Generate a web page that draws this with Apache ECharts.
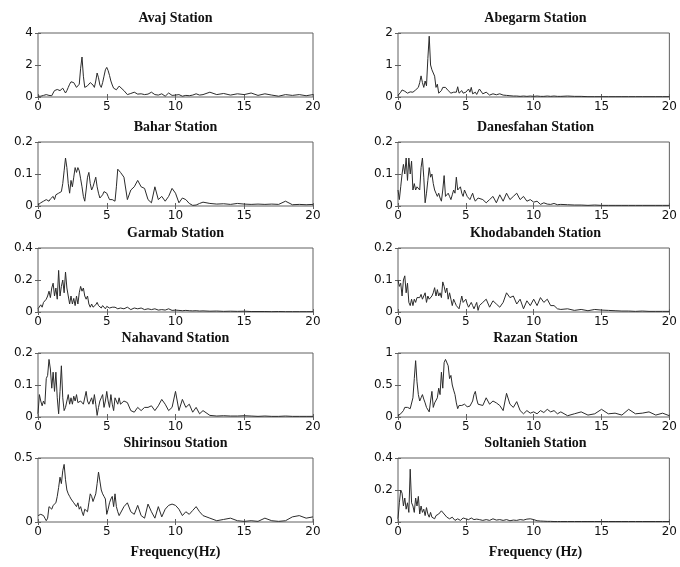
<!DOCTYPE html>
<html>
<head>
<meta charset="utf-8">
<script src="https://cdn.jsdelivr.net/npm/echarts@6/dist/echarts.min.js"></script>
<style>
  html, body { margin: 0; padding: 0; background: #fff; }
  #chart { width: 680px; height: 567px; }
</style>
</head>
<body>
<div id="chart"></div>
<script>
// frequency grid (Hz) shared by every station
const freq = [
  0, 0.1, 0.2, 0.3, 0.4, 0.5, 0.6, 0.7, 0.8, 0.9,
  1, 1.1, 1.2, 1.3, 1.4, 1.5, 1.6, 1.7, 1.8, 1.9,
  2, 2.1, 2.2, 2.3, 2.4, 2.5, 2.6, 2.7, 2.8, 2.9,
  3, 3.1, 3.2, 3.3, 3.4, 3.5, 3.6, 3.7, 3.8, 3.9,
  4, 4.1, 4.2, 4.3, 4.4, 4.5, 4.6, 4.7, 4.8, 4.9,
  5, 5.1, 5.2, 5.3, 5.4, 5.5, 5.6, 5.7, 5.8, 5.9,
  6, 6.25, 6.5, 6.75, 7, 7.25, 7.5, 7.75, 8, 8.25, 8.5, 8.75, 9, 9.25, 9.5, 9.75,
  10, 10.25, 10.5, 10.75, 11, 11.25, 11.5, 11.75, 12,
  12.5, 13, 13.5, 14, 14.5, 15, 15.5, 16, 16.5, 17, 17.5, 18, 18.5, 19, 19.5, 20
];

// Fourier amplitude per station
const avaj = [
  0.05, 0.06, 0.05, 0.08, 0.1, 0.12, 0.15, 0.16, 0.1, 0.05,
  0.08, 0.25, 0.4, 0.45, 0.47, 0.42, 0.4, 0.5, 0.55, 0.4,
  0.25, 0.4, 0.6, 0.8, 0.95, 1.05, 0.9, 0.75, 0.6, 0.5,
  0.8, 1.8, 2.5, 1.3, 0.6, 0.65, 0.7, 0.8, 0.9, 0.95,
  0.75, 0.6, 1.0, 1.5, 1.2, 0.75, 0.6, 0.9, 1.3, 1.7,
  1.85, 1.65, 1.35, 1.0, 0.75, 0.55, 0.5, 0.45, 0.55, 0.68,
  0.7, 0.4, 0.15, 0.22, 0.3, 0.18, 0.2, 0.15, 0.18, 0.3, 0.15, 0.12, 0.2, 0.05, 0.25, 0.1,
  0.12, 0.15, 0.05, 0.1, 0.08, 0.12, 0.2, 0.12, 0.15,
  0.3, 0.15, 0.22, 0.12, 0.2, 0.15, 0.25, 0.1, 0.2, 0.12, 0.05, 0.15, 0.1, 0.15, 0.08, 0.15
];
const abegarm = [
  0.05, 0.1, 0.15, 0.22, 0.26, 0.18, 0.14, 0.12, 0.13, 0.16,
  0.18, 0.15, 0.2, 0.22, 0.25, 0.3, 0.45, 0.66, 0.45, 0.3,
  0.5, 0.35, 1.2, 1.9, 1.0, 0.85, 0.9, 0.65, 0.3, 0.4,
  0.12, 0.15, 0.2, 0.3, 0.35, 0.3, 0.25, 0.2, 0.18, 0.12,
  0.1, 0.15, 0.2, 0.15, 0.32, 0.12, 0.18, 0.2, 0.12, 0.1,
  0.15, 0.2, 0.25, 0.15, 0.3, 0.1, 0.12, 0.15, 0.08, 0.06,
  0.25, 0.1, 0.15, 0.06, 0.1, 0.07, 0.1, 0.06, 0.05, 0.04, 0.03, 0.03, 0.02, 0.03, 0.02, 0.03,
  0.02, 0.03, 0.02, 0.02, 0.03, 0.02, 0.03, 0.02, 0.02,
  0.03, 0.02, 0.02, 0.01, 0.01, 0.01, 0.01, 0.01, 0.01, 0.01, 0.01, 0.01, 0.01, 0.01, 0.01, 0.01
];
const bahar = [
  0.003, 0.005, 0.01, 0.01, 0.015, 0.012, 0.02, 0.018, 0.015, 0.022,
  0.025, 0.03, 0.02, 0.035, 0.03, 0.04, 0.042, 0.045, 0.07, 0.11,
  0.15, 0.12, 0.07, 0.04, 0.08, 0.06, 0.09, 0.12, 0.105, 0.12,
  0.11, 0.085, 0.06, 0.03, 0.015, 0.05, 0.09, 0.105, 0.07, 0.05,
  0.06, 0.075, 0.09, 0.06, 0.04, 0.025, 0.02, 0.035, 0.045, 0.05,
  0.04, 0.03, 0.02, 0.015, 0.02, 0.018, 0.015, 0.06, 0.115, 0.11,
  0.105, 0.09, 0.02, 0.05, 0.06, 0.08, 0.06, 0.055, 0.02, 0.01, 0.06, 0.02, 0.03, 0.015, 0.03, 0.055,
  0.04, 0.01, 0.025, 0.02, 0.008, 0.002, 0.003, 0.008, 0.012,
  0.008, 0.006, 0.007, 0.005, 0.008, 0.006, 0.005, 0.006, 0.005, 0.006, 0.005, 0.015, 0.004, 0.005, 0.004, 0.005
];
const danesfahan = [
  0.05, 0.02, 0.06, 0.1, 0.13, 0.1, 0.15, 0.08, 0.15, 0.1,
  0.14, 0.05, 0.07, 0.05, 0.06, 0.065, 0.05, 0.12, 0.15, 0.09,
  0.01, 0.04, 0.08, 0.12, 0.09, 0.1, 0.07, 0.05, 0.04, 0.03,
  0.04, 0.025, 0.015, 0.05, 0.095, 0.03, 0.035, 0.04, 0.03, 0.02,
  0.035, 0.05, 0.04, 0.09, 0.05, 0.055, 0.06, 0.04, 0.03, 0.05,
  0.04, 0.03, 0.025, 0.02, 0.03, 0.04, 0.025, 0.015, 0.02, 0.025,
  0.02, 0.02, 0.01, 0.02, 0.03, 0.01, 0.035, 0.015, 0.04, 0.02, 0.03, 0.04, 0.02, 0.03, 0.015, 0.02,
  0.012, 0.015, 0.005, 0.01, 0.006, 0.005, 0.008, 0.004, 0.005,
  0.004, 0.003, 0.003, 0.002, 0.003, 0.002, 0.002, 0.002, 0.002, 0.002, 0.002, 0.002, 0.002, 0.002, 0.002, 0.002
];
const garmab = [
  0.02, 0.03, 0.045, 0.03, 0.06, 0.05, 0.08, 0.1, 0.13, 0.09,
  0.15, 0.18, 0.1, 0.15, 0.08, 0.26, 0.1, 0.16, 0.2, 0.12,
  0.25, 0.15, 0.1, 0.05, 0.1, 0.05, 0.085, 0.04, 0.1, 0.05,
  0.12, 0.16, 0.13, 0.15, 0.1, 0.08, 0.1, 0.05, 0.03, 0.05,
  0.03, 0.035, 0.045, 0.06, 0.04, 0.03, 0.025, 0.04, 0.03, 0.02,
  0.035, 0.03, 0.025, 0.035, 0.03, 0.02, 0.03, 0.025, 0.02, 0.03,
  0.025, 0.02, 0.03, 0.015, 0.025, 0.02, 0.025, 0.015, 0.02, 0.015, 0.02, 0.012, 0.015, 0.012, 0.02, 0.01,
  0.012, 0.01, 0.008, 0.01, 0.008, 0.007, 0.008, 0.006, 0.007,
  0.005, 0.006, 0.004, 0.005, 0.004, 0.005, 0.003, 0.003, 0.003, 0.002, 0.003, 0.002, 0.002, 0.002, 0.002, 0.002
];
const khodabandeh = [
  0.1, 0.08, 0.09, 0.05, 0.1, 0.113, 0.06, 0.09, 0.03, 0.02,
  0.04, 0.02, 0.04, 0.03, 0.045, 0.05, 0.045, 0.055, 0.04, 0.05,
  0.06, 0.03, 0.05, 0.04, 0.035, 0.05, 0.06, 0.076, 0.05, 0.07,
  0.05, 0.06, 0.045, 0.094, 0.08, 0.06, 0.075, 0.04, 0.06, 0.04,
  0.02, 0.04, 0.03, 0.02, 0.015, 0.01, 0.03, 0.05, 0.03, 0.035,
  0.04, 0.025, 0.015, 0.02, 0.03, 0.02, 0.01, 0.02, 0.03, 0.005,
  0.02, 0.03, 0.04, 0.015, 0.035, 0.025, 0.015, 0.03, 0.06, 0.045, 0.05, 0.025, 0.04, 0.01, 0.035, 0.02,
  0.04, 0.02, 0.045, 0.03, 0.04, 0.02, 0.02, 0.01, 0.008,
  0.01, 0.005, 0.008, 0.004, 0.008, 0.006, 0.005, 0.004, 0.003, 0.003, 0.002, 0.003, 0.002, 0.002, 0.002, 0.002
];
const nahavand = [
  0.01, 0.07, 0.05, 0.035, 0.05, 0.04, 0.12, 0.13, 0.18, 0.15,
  0.09, 0.14, 0.08, 0.14, 0.06, 0.01, 0.08, 0.16, 0.06, 0.02,
  0.03, 0.025, 0.07, 0.04, 0.06, 0.04, 0.065, 0.05, 0.07, 0.045,
  0.04, 0.05, 0.045, 0.04, 0.045, 0.08, 0.05, 0.04, 0.05, 0.06,
  0.04, 0.07, 0.04, 0.005, 0.03, 0.05, 0.06, 0.07, 0.03, 0.05,
  0.08, 0.05, 0.03, 0.07, 0.04, 0.02, 0.06, 0.05, 0.04, 0.06,
  0.04, 0.05, 0.045, 0.02, 0.015, 0.03, 0.02, 0.03, 0.03, 0.035, 0.02, 0.035, 0.055, 0.04, 0.02, 0.03,
  0.08, 0.02, 0.055, 0.03, 0.04, 0.015, 0.03, 0.01, 0.02,
  0.005, 0.003, 0.004, 0.003, 0.003, 0.004, 0.003, 0.002, 0.003, 0.002, 0.002, 0.003, 0.002, 0.002, 0.002, 0.002
];
const razan = [
  0.02, 0.03, 0.05, 0.07, 0.1, 0.15, 0.18, 0.15, 0.12, 0.13,
  0.15, 0.3, 0.6, 0.88, 0.55, 0.35, 0.25, 0.3, 0.35, 0.28,
  0.22, 0.15, 0.12, 0.08, 0.25, 0.4, 0.15, 0.22, 0.25, 0.3,
  0.45, 0.35, 0.7, 0.45, 0.85, 0.9, 0.92, 0.8, 0.6, 0.65,
  0.5, 0.42, 0.35, 0.22, 0.13, 0.18, 0.2, 0.18, 0.19, 0.2,
  0.2, 0.16, 0.15, 0.17, 0.18, 0.25, 0.35, 0.4, 0.28, 0.2,
  0.17, 0.18, 0.3, 0.2, 0.25, 0.22, 0.18, 0.1, 0.37, 0.2, 0.15, 0.24, 0.1, 0.05, 0.1, 0.06,
  0.08, 0.05, 0.1, 0.07, 0.12, 0.08, 0.1, 0.05, 0.08,
  0.02, 0.05, 0.08, 0.03, 0.05, 0.12, 0.05, 0.06, 0.03, 0.12, 0.05, 0.06, 0.08, 0.03, 0.06, 0.02
];
const shirinsou = [
  0.05, 0.055, 0.06, 0.055, 0.05, 0.03, 0.01, 0.03, 0.12, 0.11,
  0.1, 0.13, 0.14, 0.15, 0.2, 0.27, 0.35, 0.3, 0.4, 0.45,
  0.33, 0.25, 0.22, 0.2, 0.18, 0.17, 0.15, 0.14, 0.12, 0.15,
  0.1, 0.12, 0.08, 0.05, 0.1, 0.09, 0.08, 0.15, 0.22, 0.2,
  0.16, 0.15, 0.22, 0.3, 0.39, 0.32, 0.25, 0.22, 0.2, 0.18,
  0.06, 0.1, 0.15, 0.18, 0.2, 0.12, 0.22, 0.12, 0.08, 0.05,
  0.07, 0.12, 0.15, 0.08, 0.06, 0.13, 0.05, 0.03, 0.14, 0.08, 0.03, 0.12, 0.04, 0.1, 0.13, 0.14,
  0.13, 0.1, 0.05, 0.08, 0.06, 0.09, 0.12, 0.08, 0.05,
  0.03, 0.01, 0.02, 0.03, 0.01, 0.005, 0.01, 0.005, 0.03, 0.01, 0.005, 0.01, 0.04, 0.05, 0.03, 0.04
];
const soltanieh = [
  0.02, 0.12, 0.2, 0.18, 0.1, 0.15, 0.08, 0.12, 0.06, 0.33,
  0.12, 0.1, 0.06, 0.15, 0.1, 0.16, 0.05, 0.1, 0.06, 0.08,
  0.04, 0.09, 0.05, 0.03, 0.06, 0.03, 0.04, 0.02, 0.04, 0.03,
  0.05, 0.06, 0.07, 0.08, 0.05, 0.06, 0.03, 0.04, 0.02, 0.025,
  0.03, 0.02, 0.01, 0.015, 0.02, 0.012, 0.01, 0.018, 0.025, 0.02,
  0.02, 0.012, 0.015, 0.02, 0.025, 0.02, 0.015, 0.012, 0.018, 0.01,
  0.015, 0.01, 0.015, 0.01, 0.02, 0.012, 0.015, 0.01, 0.015, 0.008, 0.012, 0.01, 0.015, 0.012, 0.018, 0.02,
  0.015, 0.008, 0.006, 0.005, 0.004, 0.004, 0.003, 0.003, 0.003,
  0.003, 0.003, 0.003, 0.003, 0.003, 0.003, 0.003, 0.003, 0.003, 0.003, 0.003, 0.003, 0.003, 0.003, 0.003, 0.003
];

const stations = ['Avaj Station', 'Abegarm Station', 'Bahar Station', 'Danesfahan Station',
  'Garmab Station', 'Khodabandeh Station', 'Nahavand Station', 'Razan Station',
  'Shirinsou Station', 'Soltanieh Station'];
const amps = [avaj, abegarm, bahar, danesfahan, garmab, khodabandeh, nahavand, razan, shirinsou, soltanieh];
const yMax = [4, 2, 0.2, 0.2, 0.4, 0.2, 0.2, 1, 0.5, 0.4];
const yStep = [2, 1, 0.1, 0.1, 0.2, 0.1, 0.1, 0.5, 0.5, 0.2];
const xLabels = ['Frequency(Hz)', 'Frequency (Hz)'];

// panel layout
const colLeft = [38, 398];
const rowTop = [33, 142, 248, 353, 458];
const plotW = 275, plotH = 64;

const tickFont = { color: '#111', fontFamily: 'DejaVu Sans', fontSize: 12 };
const frameColor = '#606060';

let grids = [], xAxes = [], yAxes = [], series = [], texts = [];

stations.forEach((name, i) => {
  const col = i % 2, row = Math.floor(i / 2);
  const left = colLeft[col], top = rowTop[row];
  grids.push({ left: left, top: top, width: plotW, height: plotH,
    show: true, borderColor: frameColor, borderWidth: 1, containLabel: false });

  ['bottom', 'top'].forEach(pos => {
    xAxes.push({
      type: 'value', gridIndex: i, position: pos, min: 0, max: 20, interval: 5,
      axisLine: { show: false },
      axisTick: { inside: true, length: 3, lineStyle: { color: frameColor } },
      axisLabel: Object.assign({ show: pos === 'bottom', margin: 4 }, tickFont),
      splitLine: { show: false }
    });
  });
  ['left', 'right'].forEach(pos => {
    yAxes.push({
      type: 'value', gridIndex: i, position: pos, min: 0, max: yMax[i], interval: yStep[i],
      axisLine: { show: false },
      axisTick: { inside: true, length: 3, lineStyle: { color: frameColor } },
      axisLabel: Object.assign({ show: pos === 'left', margin: 5 }, tickFont),
      splitLine: { show: false }
    });
  });

  series.push({
    type: 'line', xAxisIndex: 2 * i, yAxisIndex: 2 * i,
    data: freq.map((f, k) => [f, amps[i][k]]),
    showSymbol: false, silent: true,
    lineStyle: { width: 1, color: '#2b2b2b' }
  });

  texts.push({
    type: 'text', x: left + plotW / 2, y: top - 15, silent: true,
    style: { text: name, align: 'center', verticalAlign: 'middle',
      font: 'bold 14px "Liberation Serif"', fill: '#111' }
  });
});

xLabels.forEach((t, col) => {
  texts.push({
    type: 'text', x: colLeft[col] + plotW / 2, y: 552, silent: true,
    style: { text: t, align: 'center', verticalAlign: 'middle',
      font: 'bold 14px "Liberation Serif"', fill: '#111' }
  });
});

const chart = echarts.init(document.getElementById('chart'));
chart.setOption({
  animation: false,
  backgroundColor: '#fff',
  grid: grids,
  xAxis: xAxes,
  yAxis: yAxes,
  series: series,
  graphic: texts
});
</script>
</body>
</html>
